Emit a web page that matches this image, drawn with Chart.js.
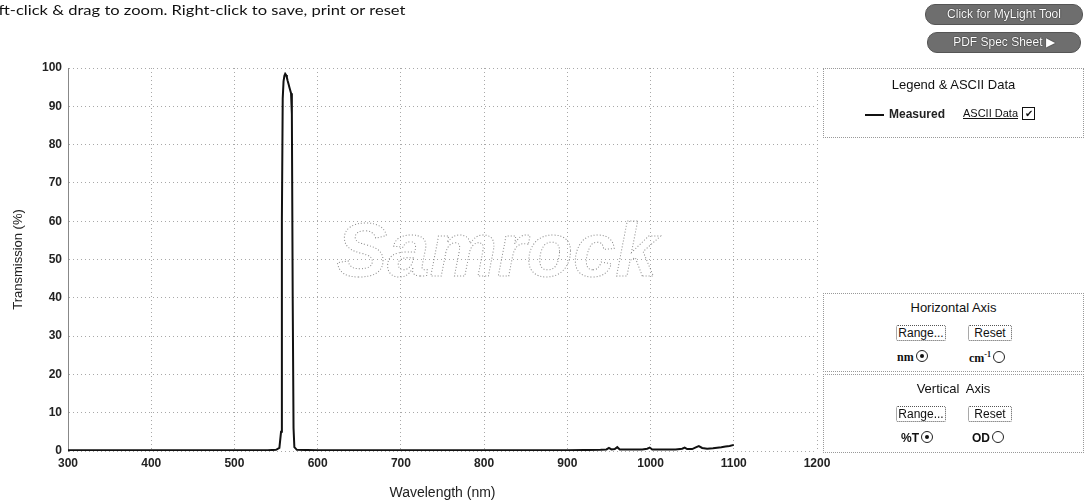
<!DOCTYPE html>
<html>
<head>
<meta charset="utf-8">
<script src="https://cdn.jsdelivr.net/npm/chart.js@4"></script>
<style>
  body { margin: 0; background: #fff; font-family: "Liberation Sans", Arial, sans-serif; }
  #wrap { position: relative; width: 1086px; height: 504px; overflow: hidden; }
  #spectrum { position: absolute; left: 0; top: 0; }
  .hint { position: absolute; left: -18px; top: 1px; font-family: Lato, sans-serif; font-size: 14px; color: #111; white-space: nowrap;
          transform: scaleX(1.18); transform-origin: left top; }
  .pill { position: absolute; height: 19px; border-radius: 10px; background: #6e6e6e; color: #fff; font-size: 12px;
          text-align: center; line-height: 19px; text-shadow: 0 0 1px #222, 0 0 1px #222; border: 1px solid #555; }
  .box { position: absolute; left: 823px; width: 259px; border: 1px dotted #999; background: #fff; font-size: 13px; color: #111; }
  .box .ttl { position: absolute; left: 0; right: 0; text-align: center; }
  .btn { position: absolute; height: 14px; border: 1px dotted #555; border-radius: 2px; font-size: 12px; line-height: 14px; text-align: center; }
  .radio { position: absolute; font-size: 12px; font-family: "Liberation Serif", serif; font-weight: bold; }
  .circ { display: inline-block; width: 10px; height: 10px; border: 1px solid #222; border-radius: 50%; vertical-align: -1px; margin-left: 2px; position: relative; }
  .circ.on::after { content: ""; position: absolute; left: 3px; top: 3px; width: 4px; height: 4px; border-radius: 50%; background: #111; }
</style>
</head>
<body>
<div id="wrap">
  <canvas id="spectrum" width="1086" height="504"></canvas>
  <div class="hint">Left-click &amp; drag to zoom. Right-click to save, print or reset</div>
  <div class="pill" style="left:925px; top:4px; width:156px;">Click for MyLight Tool</div>
  <div class="pill" style="left:927px; top:32px; width:152px;">PDF Spec Sheet &#9654;</div>

  <div class="box" style="top:68px; height:68px;">
    <div class="ttl" style="top:8px;">Legend &amp; ASCII Data</div>
    <div style="position:absolute; left:41px; top:45px; width:19px; border-top:2px solid #111;"></div>
    <div style="position:absolute; left:65px; top:38px; font-size:12px; font-weight:bold; color:#222;">Measured</div>
    <div style="position:absolute; left:139px; top:38px; font-size:11px; text-decoration:underline;">ASCII Data</div>
    <div style="position:absolute; left:198px; top:38px; width:11px; height:11px; border:1px solid #111; font-size:10px; line-height:11px; text-align:center;">&#10004;</div>
  </div>

  <div class="box" style="top:293px; height:77px;">
    <div class="ttl" style="top:6px;">Horizontal Axis</div>
    <div class="btn" style="left:72px; top:31px; width:48px;">Range...</div>
    <div class="btn" style="left:144px; top:31px; width:42px;">Reset</div>
    <div class="radio" style="left:73px; top:56px;">nm<span class="circ on"></span></div>
    <div class="radio" style="left:145px; top:56px;">cm<sup style="font-size:8px;">-1</sup><span class="circ"></span></div>
  </div>

  <div class="box" style="top:374px; height:77px;">
    <div class="ttl" style="top:6px;">Vertical&nbsp; Axis</div>
    <div class="btn" style="left:72px; top:31px; width:48px;">Range...</div>
    <div class="btn" style="left:144px; top:31px; width:42px;">Reset</div>
    <div class="radio" style="left:77px; top:56px; font-family:'Liberation Sans',sans-serif;">%T<span class="circ on"></span></div>
    <div class="radio" style="left:148px; top:56px; font-family:'Liberation Sans',sans-serif;">OD<span class="circ"></span></div>
  </div>
</div>

<script>
// measured transmission curve (nm, %T)
const wavelengths = [300, 400, 500, 540, 550, 554, 556, 557, 558, 559, 560, 561, 562, 563, 564, 565, 566, 567, 568, 569, 570, 571, 572, 575, 600, 700, 800, 900, 940, 947, 950, 953, 957, 960, 963, 990, 996, 999, 1002, 1030, 1038, 1041, 1044, 1050, 1055, 1058, 1062, 1068, 1075, 1085, 1090, 1095, 1100];
const transmission = [0.2, 0.2, 0.2, 0.2, 0.3, 0.8, 5, 60, 92, 96.5, 98, 98.5, 98.2, 97.5, 96.6, 95.8, 95, 94.2, 93.4, 88, 40, 6, 1, 0.3, 0.2, 0.2, 0.2, 0.2, 0.3, 0.4, 0.8, 0.4, 0.5, 1.0, 0.4, 0.4, 0.6, 0.9, 0.4, 0.4, 0.6, 0.9, 0.5, 0.5, 1.0, 1.3, 0.8, 0.6, 0.7, 1.0, 1.2, 1.3, 1.6];

const xTicks = [300, 400, 500, 600, 700, 800, 900, 1000, 1100, 1200];
const yTicks = [0, 10, 20, 30, 40, 50, 60, 70, 80, 90, 100];

const watermark = {
  id: 'watermark',
  beforeDatasetsDraw(chart) {
    const c = chart.ctx;
    c.save();
    c.font = 'italic bold 76px "Liberation Sans", sans-serif';
    c.textAlign = 'center';
    c.textBaseline = 'middle';
    c.setLineDash([1, 2]);
    c.strokeStyle = 'rgba(90,90,90,0.7)';
    c.lineWidth = 1;
    c.strokeText('Samrock', 497, 255);
    c.restore();
  }
};

const ctx = document.getElementById('spectrum').getContext('2d');
new Chart(ctx, {
  type: 'line',
  data: {
    datasets: [{
      label: 'Measured',
      data: wavelengths.map((w, i) => ({ x: w, y: transmission[i] })),
      borderColor: '#111',
      borderWidth: 2,
      pointRadius: 0,
      tension: 0,
      fill: false
    }]
  },
  options: {
    responsive: false,
    animation: false,
    devicePixelRatio: 1,
    layout: { padding: { left: 0, top: 68, right: 269, bottom: 0 } },
    plugins: { legend: { display: false }, tooltip: { enabled: false } },
    scales: {
      x: {
        type: 'linear',
        min: 300, max: 1200,
        afterBuildTicks: s => { s.ticks = xTicks.map(v => ({ value: v })); },
        afterFit: s => { s.height = 53; },
        grid: { color: '#a8a8a8', lineWidth: 1, drawTicks: false },
        border: { display: false, dash: [1, 3] },
        ticks: { color: '#222', padding: 5, callback: v => String(v), font: { family: 'Liberation Sans', size: 12, weight: 'bold' } },
        title: { display: true, text: 'Wavelength (nm)', color: '#222', padding: { top: 8, bottom: 2 }, font: { family: 'Liberation Sans', size: 14 } }
      },
      y: {
        min: 0, max: 100,
        afterBuildTicks: s => { s.ticks = yTicks.map(v => ({ value: v })); },
        afterFit: s => { s.width = 68; },
        grid: { color: '#a8a8a8', lineWidth: 1, drawTicks: false },
        border: { color: '#888', dash: [1, 3] },
        ticks: { color: '#222', padding: 6, callback: v => String(v), font: { family: 'Liberation Sans', size: 12, weight: 'bold' } },
        title: { display: true, text: 'Transmission (%)', color: '#222', padding: { top: 11, bottom: 0 }, font: { family: 'Liberation Sans', size: 13 } }
      }
    }
  },
  plugins: [watermark]
});
</script>
</body>
</html>
